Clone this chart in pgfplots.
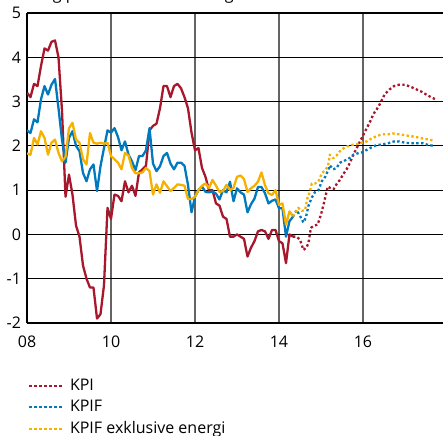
\documentclass[border=0pt]{standalone}
\usepackage{pgfplots}
\pgfplotsset{compat=1.18}
\usepackage{pgfplotstable}
\usepackage{fontspec}
\setmainfont{Open Sans}
\definecolor{kpired}{RGB}{168,24,44}
\definecolor{kpifblue}{RGB}{0,122,189}
\definecolor{kpifyel}{RGB}{245,177,0}
\definecolor{vgrid}{RGB}{100,100,100}

\pgfplotstableread{
t kpi kpif kpifx
8.000 3.2 2.35 1.83
8.083 3.1 2.29 1.8
8.167 3.4 2.6 2.18
8.250 3.35 2.53 2.03
8.333 3.8 3.05 2.33
8.417 4.2 3.35 2.18
8.500 4.15 3.16 1.8
8.583 4.35 3.38 2.07
8.667 4.38 3.51 2.14
8.750 4.0 2.85 1.84
8.833 2.8 2.14 1.65
8.917 0.85 1.62 1.75
9.000 1.35 2.18 2.4
9.083 0.9 2.33 2.52
9.167 0.2 2.0 2.14
9.250 -0.05 1.88 2.07
9.333 -0.7 1.39 1.7
9.417 -1.0 1.2 1.58
9.500 -1.2 1.47 2.29
9.583 -1.2 1.58 2.07
9.667 -1.9 0.98 2.05
9.750 -1.8 1.54 2.07
9.833 -1.15 1.95 2.05
9.917 0.6 2.35 2.07
10.000 0.35 2.3 1.77
10.083 0.9 2.4 1.7
10.167 0.87 2.2 1.62
10.250 0.75 1.9 1.47
10.333 1.2 2.1 1.84
10.417 0.95 1.8 1.78
10.500 1.1 1.65 1.5
10.583 0.87 1.45 1.38
10.667 1.4 1.77 1.38
10.750 1.47 1.77 1.4
10.833 1.55 1.9 1.5
10.917 2.35 2.4 1.43
11.000 2.45 1.6 0.9
11.083 2.5 1.43 1.13
11.167 2.85 1.54 0.94
11.250 3.35 1.77 1.2
11.333 3.35 1.84 1.09
11.417 3.1 1.6 0.98
11.500 3.35 1.47 1.05
11.583 3.4 1.62 1.13
11.667 3.3 1.62 1.12
11.750 3.1 1.55 1.1
11.833 2.85 1.12 0.8
11.917 2.3 0.5 0.8
12.000 1.9 0.85 0.85
12.083 1.95 1.0 1.0
12.167 1.5 1.08 1.1
12.250 1.3 0.96 1.15
12.333 1.0 0.95 1.05
12.417 1.0 0.97 1.23
12.500 0.7 0.92 1.1
12.583 0.65 0.79 0.96
12.667 0.4 1.0 0.98
12.750 0.35 0.95 1.12
12.833 -0.05 1.19 1.0
12.917 -0.05 0.75 1.05
13.000 0.0 1.04 1.3
13.083 -0.05 0.95 1.33
13.167 -0.1 0.9 1.25
13.250 -0.5 0.5 0.96
13.333 -0.3 0.68 1.04
13.417 -0.15 0.81 1.1
13.500 0.07 1.07 1.19
13.583 0.1 1.07 1.4
13.667 0.07 0.93 1.11
13.750 -0.1 0.7 0.93
13.833 0.1 0.76 0.89
13.917 0.1 0.79 1.0
14.000 -0.15 0.59 0.67
14.083 -0.2 0.59 0.7
14.167 -0.65 -0.05 0.22
14.250 0.0 0.3 0.52
14.333 -0.05 0.4 0.41
}\histdata

\pgfplotstableread{
t v
14.333 -0.05
14.42 -0.05
14.5 -0.12
14.58 -0.35
14.65 -0.3
14.7 -0.2
14.76 0.15
14.84 0.2
14.92 0.22
15.0 0.45
15.08 0.75
15.16 1.08
15.22 1.05
15.3 1.02
15.38 1.15
15.45 1.23
15.53 1.36
15.61 1.47
15.69 1.62
15.77 1.8
15.85 1.95
15.93 2.1
16.01 2.25
16.09 2.4
16.17 2.55
16.25 2.72
16.33 2.83
16.4 2.94
16.52 3.17
16.64 3.28
16.74 3.35
16.86 3.38
17.0 3.38
17.12 3.34
17.26 3.28
17.4 3.22
17.52 3.15
17.64 3.09
17.75 3.04
}\kpifc

\pgfplotstableread{
t v
14.333 0.4
14.42 0.55
14.5 0.42
14.58 0.27
14.64 0.38
14.7 0.64
14.78 0.83
14.86 0.96
14.94 1.0
15.02 1.2
15.1 1.3
15.17 1.45
15.21 1.56
15.29 1.47
15.37 1.5
15.45 1.62
15.53 1.65
15.61 1.69
15.69 1.73
15.77 1.8
15.87 1.83
15.97 1.85
16.09 1.91
16.21 1.97
16.33 2.02
16.45 2.03
16.6 2.06
16.74 2.1
16.86 2.1
17.0 2.07
17.13 2.06
17.28 2.06
17.42 2.06
17.55 2.02
17.69 2.0
}\kpiffc

\pgfplotstableread{
t v
14.333 0.41
14.46 0.6
14.54 0.53
14.62 0.55
14.68 0.83
14.73 0.95
14.78 1.15
14.86 1.15
14.94 1.2
15.02 1.38
15.1 1.45
15.17 1.55
15.21 1.8
15.29 1.72
15.37 1.78
15.45 1.88
15.57 1.97
15.73 2.02
15.85 2.04
15.97 2.07
16.09 2.1
16.21 2.17
16.33 2.22
16.45 2.26
16.6 2.26
16.72 2.28
16.86 2.26
17.0 2.24
17.13 2.22
17.26 2.2
17.4 2.17
17.53 2.15
17.67 2.12
}\kpifxfc

\begin{document}
\fontsize{16}{18}\selectfont
\begin{tikzpicture}
\begin{axis}[
  scale only axis,
  width=416pt, height=310pt,
  xmin=8, xmax=17.905, ymin=-2, ymax=5,
  xtick={8,10,12,14,16}, xticklabels={08,10,12,14,16},
  ytick={-2,-1,0,1,2,3,4,5},
  axis x line*=bottom, axis y line*=left,
  axis line style={black, line width=1.2pt},
  xmajorgrids, ymajorgrids,
  x grid style={vgrid, line width=1.6pt},
  y grid style={black, line width=1.1pt},
  major tick length=0pt,
  /pgf/number format/assume math mode=true,
  tick label style={font=\fontsize{16}{18}\selectfont},
  xticklabel style={yshift=-7pt},
  yticklabel style={xshift=-0.5pt},
  legend cell align=left,
  legend style={at={(axis description cs:0.002,-0.180)}, anchor=north west,
    draw=none, fill=none, inner sep=0pt, row sep=7.4pt, column sep=6pt,
    font=\fontsize{16}{18}\selectfont, nodes={inner sep=0pt}},
  legend image code/.code={\draw[#1, line width=2pt, dash pattern=on 2.5pt off 2.5pt] (0pt,0pt) -- (34pt,0pt);},
  every axis plot/.append style={line width=2.3pt, line join=round},
]
\addplot[kpired, forget plot] table[x=t, y=kpi] {\histdata};
\addplot[kpifblue, forget plot] table[x=t, y=kpif] {\histdata};
\addplot[kpifyel, forget plot] table[x=t, y=kpifx] {\histdata};
\addplot[kpired, dash pattern=on 2.4pt off 2.4pt] table[x=t, y=v] {\kpifc};
\addplot[kpifblue, dash pattern=on 2.4pt off 2.4pt] table[x=t, y=v] {\kpiffc};
\addplot[kpifyel, dash pattern=on 2.4pt off 2.4pt] table[x=t, y=v] {\kpifxfc};
\legend{KPI, KPIF, KPIF exklusive energi}
\coordinate (BL) at (rel axis cs:0,0);
\coordinate (TR) at (rel axis cs:1,1);
\coordinate (TL) at (rel axis cs:0,1);
\end{axis}
\node[anchor=base west, inner sep=0pt, font=\fontsize{16}{18}\selectfont] at ([xshift=1pt, yshift=13.5pt]TL) {Årlig procentuell förändring};
\pgfresetboundingbox
\path[use as bounding box] ([xshift=-27pt, yshift=-112pt]BL) rectangle ([yshift=13pt]TR);
\end{tikzpicture}
\end{document}
